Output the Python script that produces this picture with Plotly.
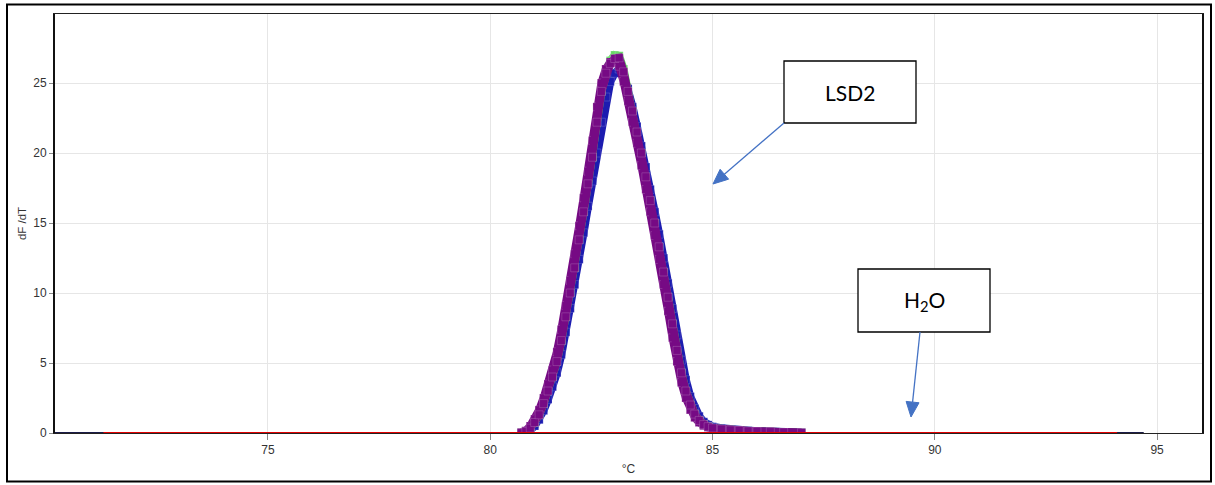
import math
import plotly.graph_objects as go

# ---------------- data ----------------
temps_peak = [80.7, 80.8, 80.9, 81.0, 81.1, 81.2, 81.3, 81.4, 81.5, 81.6,
              81.7, 81.8, 81.9, 82.0, 82.1, 82.2, 82.3, 82.4, 82.5, 82.6,
              82.7, 82.8, 82.9, 83.0, 83.1, 83.2, 83.3, 83.4, 83.5, 83.6,
              83.7, 83.8, 83.9, 84.0, 84.1, 84.2, 84.3, 84.4, 84.5, 84.6,
              84.7, 84.8, 84.9, 85.0, 85.2, 85.4, 85.6, 85.8, 86.0, 86.3,
              86.6, 87.0]

lsd2_purple_a = [0.02, 0.1, 0.35, 0.75, 1.3, 2.1, 3.0, 4.0, 5.1, 6.6,
                 8.3, 10.0, 11.8, 13.8, 15.8, 17.8, 19.7, 22.2, 24.4, 25.7,
                 26.4, 26.75, 26.8, 25.8, 24.4, 23.0, 21.5, 20.0, 18.3, 16.6,
                 15.0, 13.3, 11.5, 9.7, 7.8, 5.9, 4.3, 3.0, 2.0, 1.35,
                 0.9, 0.6, 0.45, 0.36, 0.28, 0.22, 0.18, 0.15, 0.12, 0.1,
                 0.07, 0.03]

lsd2_purple_b = [0.04, 0.16, 0.5, 1.0, 1.65, 2.5, 3.5, 4.5, 5.8, 7.4,
                 9.1, 10.9, 12.8, 14.8, 16.8, 18.7, 20.9, 23.3, 25.0, 26.0,
                 26.5, 26.6, 26.2, 25.1, 23.7, 22.2, 20.7, 19.1, 17.4, 15.8,
                 14.1, 12.4, 10.6, 8.7, 6.8, 5.1, 3.6, 2.5, 1.65, 1.1,
                 0.75, 0.52, 0.4, 0.32, 0.25, 0.2, 0.16, 0.13, 0.11, 0.09,
                 0.06, 0.02]

lsd2_blue = [0.01, 0.05, 0.2, 0.5, 0.95, 1.6, 2.4, 3.3, 4.3, 5.6,
             7.2, 8.9, 10.6, 12.4, 14.3, 16.2, 18.0, 20.0, 22.2, 24.0,
             25.1, 25.7, 26.0, 25.6, 24.6, 23.3, 21.9, 20.5, 19.0, 17.4,
             15.8, 14.2, 12.5, 10.7, 8.9, 7.0, 5.2, 3.8, 2.6, 1.75,
             1.2, 0.8, 0.58, 0.45, 0.34, 0.26, 0.2, 0.16, 0.13, 0.1,
             0.07, 0.03]

lsd2_green = [0.02, 0.1, 0.35, 0.75, 1.3, 2.1, 3.0, 4.0, 5.1, 6.6,
              8.3, 10.0, 11.8, 13.8, 15.8, 17.8, 19.7, 22.2, 24.4, 25.8,
              26.6, 27.0, 26.95, 26.0, 24.4, 23.0, 21.5, 20.0, 18.3, 16.6,
              15.0, 13.3, 11.5, 9.7, 7.8, 5.9, 4.3, 3.0, 2.0, 1.35,
              0.9, 0.6, 0.45, 0.36, 0.28, 0.22, 0.18, 0.15, 0.12, 0.1,
              0.07, 0.03]

baseline_temps = [70.2, 75.0, 80.0, 85.0, 90.0, 94.7]
baseline_vals = [0.0, 0.0, 0.0, 0.0, 0.0, 0.0]

h2o_temps = [71.3, 75.0, 80.0, 85.0, 90.0, 94.1]
h2o_vals = [0.0, 0.0, 0.0, 0.0, 0.0, 0.0]

x_ticks = [75, 80, 85, 90, 95]
y_ticks = [0, 5, 10, 15, 20, 25]
x_range = [70.21, 96.01]
y_range = [0, 29.93]

# ---------------- layout geometry (pixels) ----------------
W, H = 1215, 485
ML, MR, MT, MB = 55, 13, 14, 52
PW, PH = W - ML - MR, H - MT - MB


def px_x(px):
    return x_range[0] + (px - ML) / PW * (x_range[1] - x_range[0])


def px_y(py):
    return y_range[0] + (H - MB - py) / PH * (y_range[1] - y_range[0])


PURPLE = "#760a84"
BLUE = "#1c1cb0"
GREEN = "#66d966"
RED = "#e00000"
NAVY = "#1c1c48"
ARROW = "#4472C4"

fig = go.Figure()

fig.add_trace(go.Scatter(x=baseline_temps, y=baseline_vals, mode="lines",
                         line=dict(color=NAVY, width=2), hoverinfo="skip"))

for vals, col in [(lsd2_blue, BLUE), (lsd2_green, GREEN),
                  (lsd2_purple_b, PURPLE), (lsd2_purple_a, PURPLE)]:
    fig.add_trace(go.Scatter(
        x=temps_peak, y=vals, mode="lines+markers",
        line=dict(color=col, width=8),
        marker=dict(symbol="square", size=8, color=col,
                    line=dict(color="rgba(255,255,255,0.35)", width=0.5)),
        hoverinfo="skip"))

fig.add_trace(go.Scatter(x=h2o_temps, y=h2o_vals, mode="lines",
                         line=dict(color=RED, width=2), hoverinfo="skip"))

font_axis = dict(family="Liberation Sans, Arial, sans-serif", size=12, color="#333333")

fig.update_layout(
    width=W, height=H,
    margin=dict(l=ML, r=MR, t=MT, b=MB, pad=0, autoexpand=False),
    paper_bgcolor="white", plot_bgcolor="white",
    showlegend=False,
    xaxis=dict(range=x_range, tickvals=x_ticks, ticktext=[str(v) for v in x_ticks],
               showgrid=True, gridcolor="#e6e6e6", gridwidth=1,
               zeroline=False, showline=True, linecolor="#222222", linewidth=1,
               mirror=True, ticks="outside", ticklen=6, tickcolor="#888888",
               tickfont=font_axis, automargin=False, layer="below traces",
               title=dict(text="°C", font=font_axis, standoff=8)),
    yaxis=dict(range=y_range, tickvals=y_ticks, ticktext=[str(v) for v in y_ticks],
               showgrid=True, gridcolor="#e6e6e6", gridwidth=1,
               zeroline=False, showline=True, linecolor="#111111", linewidth=2,
               mirror=True, ticks="outside", ticklen=4, tickcolor="#888888",
               tickfont=font_axis, automargin=False, layer="below traces",
               title=dict(text="dF /dT", font=dict(family="Liberation Sans, Arial, sans-serif",
                                                   size=11.5, color="#333333"), standoff=4)),
)

# outer frame
fig.add_shape(type="rect", xref="paper", yref="paper",
              x0=(7 - ML) / PW, x1=(1211 - ML) / PW,
              y0=(H - MB - 481.5) / PH, y1=(H - MB - 4.5) / PH,
              line=dict(color="black", width=2), fillcolor="rgba(0,0,0,0)",
              layer="above")

# annotation boxes
boxes = [
    ("LSD2", 784, 61, 916, 123),
    ("H<sub>2</sub>O", 858, 269, 990, 332),
]
for text, bx0, by0, bx1, by1 in boxes:
    fig.add_shape(type="rect", xref="x", yref="y",
                  x0=px_x(bx0), x1=px_x(bx1), y0=px_y(by1), y1=px_y(by0),
                  line=dict(color="black", width=1.3), fillcolor="white",
                  layer="above")
    fig.add_annotation(x=px_x((bx0 + bx1) / 2), y=px_y((by0 + by1) / 2),
                       xref="x", yref="y", text=text, showarrow=False,
                       font=dict(family="Lato, Liberation Sans, sans-serif",
                                 size=21, color="black"))

# arrows (line + filled triangular head), geometry in pixels
arrows = [
    (784, 123, 713, 184),
    (920, 332, 911, 417),
]
HEAD_LEN, HEAD_HALF = 15, 6.5
for sx, sy, tx, ty in arrows:
    dx, dy = tx - sx, ty - sy
    L = math.hypot(dx, dy)
    ux, uy = dx / L, dy / L
    nx, ny = -uy, ux
    bx, by = tx - HEAD_LEN * ux, ty - HEAD_LEN * uy
    fig.add_shape(type="line", xref="x", yref="y",
                  x0=px_x(sx), y0=px_y(sy), x1=px_x(bx), y1=px_y(by),
                  line=dict(color=ARROW, width=1.3), layer="above")
    pts = [(tx, ty), (bx + HEAD_HALF * nx, by + HEAD_HALF * ny),
           (bx - HEAD_HALF * nx, by - HEAD_HALF * ny)]
    path = "M " + " L ".join(f"{px_x(p[0])},{px_y(p[1])}" for p in pts) + " Z"
    fig.add_shape(type="path", xref="x", yref="y", path=path,
                  line=dict(color=ARROW, width=1), fillcolor=ARROW, layer="above")

fig.write_html("out.html")
